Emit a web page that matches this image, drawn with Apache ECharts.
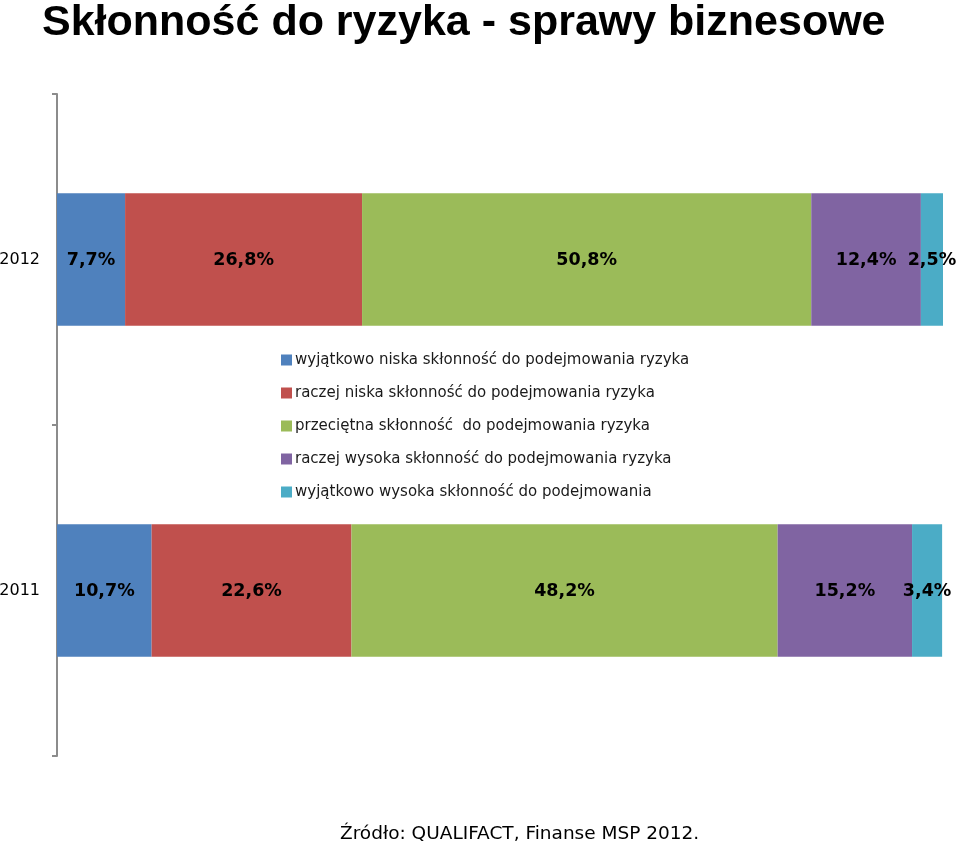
<!DOCTYPE html>
<html><head><meta charset="utf-8">
<script src="https://cdn.jsdelivr.net/npm/echarts@6/dist/echarts.min.js"></script>
<style>html,body{margin:0;padding:0;background:#fff}#c{width:960px;height:845px}</style>
</head><body><div id="c"></div>
<script>
const categories = ['2012', '2011'];
const seriesNames = [
  'wyjątkowo niska skłonność do podejmowania ryzyka',
  'raczej niska skłonność do podejmowania ryzyka',
  'przeciętna skłonność  do podejmowania ryzyka',
  'raczej wysoka skłonność do podejmowania ryzyka',
  'wyjątkowo wysoka skłonność do podejmowania'
];
const s1 = [7.7, 10.7];
const s2 = [26.8, 22.6];
const s3 = [50.8, 48.2];
const s4 = [12.4, 15.2];
const s5 = [2.5, 3.4];
const colors = ['#4F81BD', '#C0504D', '#9BBB59', '#8064A2', '#4BACC6'];
const values = [s1, s2, s3, s4, s5];

const chart = echarts.init(document.getElementById('c'));
chart.setOption({
  animation: false,
  title: [
    { text: 'Skłonność do ryzyka - sprawy biznesowe', left: 37, top: -3,
      textStyle: { fontFamily: 'Liberation Sans', fontWeight: 'bold', fontSize: 43, color: '#000' } },
    { text: 'Źródło: QUALIFACT, Finanse MSP 2012.', left: 335, top: 820,
      textStyle: { fontFamily: 'DejaVu Sans', fontWeight: 'normal', fontSize: 18.5, color: '#000' } }
  ],
  legend: {
    orient: 'vertical', left: 276, top: 346,
    itemWidth: 11, itemHeight: 11, itemGap: 15, icon: 'rect',
    textStyle: { fontFamily: 'DejaVu Sans', fontSize: 15, color: '#1a1a1a', lineHeight: 18, padding: [0, 0, 0, -2] },
    data: seriesNames
  },
  grid: { left: 57, right: 17, top: 94, bottom: 89, containLabel: false, outerBoundsMode: 'none' },
  xAxis: { type: 'value', min: 0, max: 100.2, show: false },
  yAxis: {
    type: 'category', data: categories, inverse: true,
    axisLine: { show: true, lineStyle: { color: '#8c8c8c', width: 2 } },
    axisTick: { show: true, length: 5, lineStyle: { color: '#8c8c8c', width: 2 } },
    axisLabel: { fontFamily: 'DejaVu Sans', fontSize: 16, color: '#000', margin: 17 }
  },
  series: values.map((v, i) => ({
    name: seriesNames[i], type: 'bar', stack: 'total', data: v, barWidth: '40%',
    itemStyle: { color: colors[i] },
    label: {
      show: true, position: 'inside', color: '#000', offset: [0, 1],
      fontFamily: 'DejaVu Sans', fontWeight: 'bold', fontSize: 17.5,
      formatter: p => p.value.toFixed(1).replace('.', ',') + '%'
    }
  }))
});
</script></body></html>
